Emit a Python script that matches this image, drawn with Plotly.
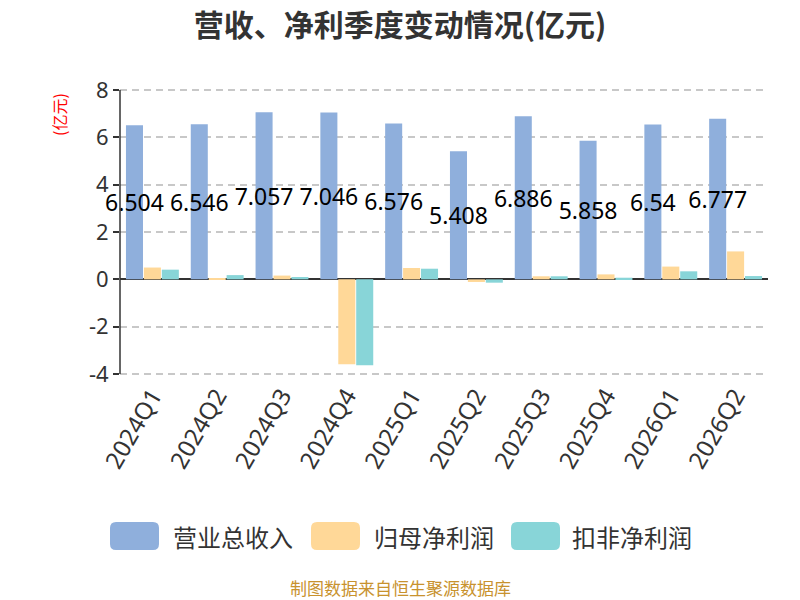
import plotly.graph_objects as go

categories = ["2024Q1", "2024Q2", "2024Q3", "2024Q4", "2025Q1", "2025Q2", "2025Q3", "2025Q4", "2026Q1", "2026Q2"]
revenue = [6.504, 6.546, 7.057, 7.046, 6.576, 5.408, 6.886, 5.858, 6.54, 6.777]
net_profit = [0.50, 0.03, 0.16, -3.58, 0.48, -0.11, 0.13, 0.21, 0.54, 1.18]
deducted_profit = [0.41, 0.18, 0.10, -3.63, 0.45, -0.14, 0.13, 0.07, 0.34, 0.14]
revenue_labels = ["6.504", "6.546", "7.057", "7.046", "6.576", "5.408", "6.886", "5.858", "6.54", "6.777"]
series_names = ["营业总收入", "归母净利润", "扣非净利润"]
colors = ["#8FAFDC", "#FFD898", "#88D5D8"]
y_ticks = [-4, -2, 0, 2, 4, 6, 8]
y_tick_text = ["-4", "-2", "0", "2", "4", "6", "8"]
y_range = [-4.08, 8.08]

FONT = "Noto Sans, Noto Sans CJK SC, sans-serif"
CJK = "Noto Sans CJK SC, sans-serif"

# figure placed at the page origin (body margin removed below)
OFF = 0
L, R, T, B = 120, 32, 88, 224
W, H = 800, 600
PW, PH = W - L - R, H - T - B


def px(xs):
    return (xs - OFF - L) / PW


def py(ys):
    return (H - B - (ys - OFF)) / PH


fig = go.Figure()
fig.add_trace(go.Bar(
    x=categories, y=revenue, name=series_names[0], marker_color=colors[0],
    text=revenue_labels, textposition="inside", insidetextanchor="middle",
    constraintext="none", textangle=0, cliponaxis=False,
    insidetextfont=dict(color="#000000", size=23, family=FONT),
))
fig.add_trace(go.Bar(x=categories, y=net_profit, name=series_names[1], marker_color=colors[1]))
fig.add_trace(go.Bar(x=categories, y=deducted_profit, name=series_names[2], marker_color=colors[2]))
fig.update_traces(marker_line_width=0)

zero_pos = (0 - y_range[0]) / (y_range[1] - y_range[0])

fig.update_layout(
    width=W, height=H,
    margin=dict(l=L, r=R, t=T, b=B),
    paper_bgcolor="white", plot_bgcolor="white",
    barmode="group", bargap=0.17, bargroupgap=0.05,
    showlegend=False,
    font=dict(family=FONT, color="#333333"),
    title=dict(text="<b>营收、净利季度变动情况(亿元)</b>", x=(400 - OFF) / W, xanchor="center",
               y=1 - (25 - OFF) / H, yanchor="middle",
               font=dict(size=30, color="#333333", family=CJK)),
    xaxis=dict(
        type="category", categoryarray=categories,
        tickangle=-60, tickfont=dict(size=24, color="#333333", family=FONT),
        showline=False, ticks="", showgrid=False, zeroline=False,
    ),
    xaxis2=dict(
        type="category", categoryarray=categories, matches="x", overlaying="x",
        anchor="free", position=zero_pos, side="bottom",
        showline=True, linecolor="#333333", linewidth=1.5,
        ticks="outside", tickson="boundaries", ticklen=8, tickcolor="#333333", tickwidth=1.5,
        showticklabels=False, showgrid=False, zeroline=False,
    ),
    yaxis=dict(
        range=y_range, tickvals=y_ticks, ticktext=y_tick_text,
        tickfont=dict(size=22, color="#333333", family=FONT),
        showline=False, ticks="outside", ticklen=6, tickcolor="#333333", tickwidth=1.5,
        showgrid=True, gridcolor="#C8C8C8", griddash="7px,5px", gridwidth=1.5,
        zeroline=True, zerolinecolor="#333333", zerolinewidth=1.5,
    ),
)

# y axis line spanning exactly from the lowest to the highest tick
fig.add_shape(type="line", xref="paper", yref="y", x0=0, x1=0, y0=y_ticks[0], y1=y_ticks[-1],
              line=dict(color="#333333", width=1.5), layer="above")

# y-axis unit label
fig.add_annotation(text="(亿元)", xref="paper", yref="paper", x=px(59), y=py(115),
                   xanchor="center", yanchor="middle",
                   textangle=-90, showarrow=False, font=dict(size=16, color="#FF0000", family=CJK))


def rounded_rect(x0, y0, x1, y1, r):
    # screen-pixel corners -> paper path with rounded corners
    rx, ry = r / PW, r / PH
    X0, X1 = px(x0), px(x1)
    Yt, Yb = py(y0), py(y1)
    return (f"M {X0 + rx},{Yt} L {X1 - rx},{Yt} Q {X1},{Yt} {X1},{Yt - ry} "
            f"L {X1},{Yb + ry} Q {X1},{Yb} {X1 - rx},{Yb} L {X0 + rx},{Yb} "
            f"Q {X0},{Yb} {X0},{Yb + ry} L {X0},{Yt - ry} Q {X0},{Yt} {X0 + rx},{Yt} Z")


# custom legend
legend_items = [(110, 159, 171), (311, 360, 372), (511, 560, 570)]
for (x0, x1, tx), name, col in zip(legend_items, series_names, colors):
    fig.add_shape(type="path", xref="paper", yref="paper",
                  path=rounded_rect(x0, 522, x1, 550, 6),
                  fillcolor=col, line=dict(width=0), layer="above")
    fig.add_annotation(text=name, xref="paper", yref="paper", x=px(tx),
                       y=py(536), xanchor="left", yanchor="middle",
                       showarrow=False, font=dict(size=24, color="#333333", family=CJK))

fig.add_annotation(text="制图数据来自恒生聚源数据库", xref="paper", yref="paper",
                   x=px(400), y=py(587), xanchor="center", yanchor="middle",
                   showarrow=False, font=dict(size=17, color="#C8922E", family=CJK))

fig.write_html("out.html", config={"displayModeBar": False},
               post_script="document.body.style.margin='0';")
